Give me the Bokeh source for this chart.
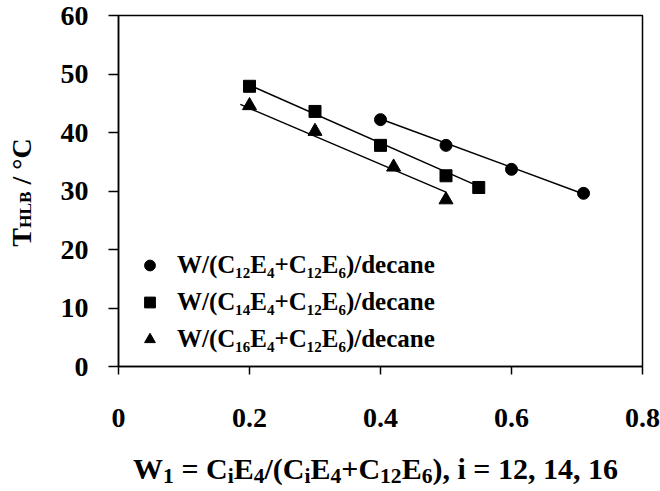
import math
from bokeh.plotting import figure
from bokeh.layouts import row, column
from bokeh.models import Range1d, FixedTicker, Legend, LegendItem
from bokeh.core.properties import value
from bokeh.embed import file_html
from bokeh.resources import INLINE

# ---------------- data ----------------
c12_x = [0.40, 0.50, 0.60, 0.71]
c12_y = [42.2, 37.8, 33.7, 29.6]
c14_x = [0.20, 0.30, 0.40, 0.50, 0.55]
c14_y = [47.9, 43.6, 37.8, 32.6, 30.6]
c16_x = [0.20, 0.30, 0.42, 0.50]
c16_y = [44.6, 40.2, 34.1, 28.5]

# linear fit lines (end points)
c12_fit_x = [0.40, 0.71]
c12_fit_y = [42.3, 29.5]
c14_fit_x = [0.20, 0.55]
c14_fit_y = [48.1, 30.8]
c16_fit_x = [0.186, 0.50]
c16_fit_y = [44.8, 29.8]

series_labels = [
    "W/(C\u2081\u2082E\u2084+C\u2081\u2082E\u2086)/decane",
    "W/(C\u2081\u2084E\u2084+C\u2081\u2082E\u2086)/decane",
    "W/(C\u2081\u2086E\u2084+C\u2081\u2082E\u2086)/decane",
]

x_ticks = [0, 0.2, 0.4, 0.6, 0.8]
x_tick_labels = ["0", "0.2", "0.4", "0.6", "0.8"]
y_ticks = [0, 10, 20, 30, 40, 50, 60]

# axis titles as (text, is_subscript) pieces
x_title = [("W", False), ("1", True), (" = C", False), ("i", True), ("E", False), ("4", True),
           ("/(C", False), ("i", True), ("E", False), ("4", True), ("+C", False), ("12", True),
           ("E", False), ("6", True), ("), i = 12, 14, 16", False)]
y_title = [("T", False), ("HLB", True), (" / \u00b0C", False)]

# ---------------- layout ----------------
W, H = 660, 491
YT_W = 50            # strip holding the y-axis title
XT_H = 40            # strip holding the x-axis title
MW, MH = W - YT_W, H - XT_H
L, R, T, B = 68, 18, 15, 85
X0, X1, Y0, Y1 = 0.0, 0.8, 0.0, 60.0
FONT = "Liberation Serif"

p = figure(width=MW, height=MH, x_range=Range1d(X0, X1), y_range=Range1d(Y0, Y1),
           output_backend="svg", toolbar_location=None,
           min_border_left=L, min_border_right=R, min_border_top=T, min_border_bottom=B)
p.xgrid.visible = False
p.ygrid.visible = False
p.outline_line_color = "black"
p.outline_line_width = 1.5
p.outline_line_alpha = 1.0
p.background_fill_color = "white"
p.border_fill_color = "white"

for ax in (p.xaxis[0], p.yaxis[0]):
    ax.axis_line_width = 1.5
    ax.axis_line_color = "black"
    ax.major_tick_line_width = 1.5
    ax.major_tick_line_color = "black"
    ax.minor_tick_line_color = None
    ax.major_tick_in = 0
    ax.major_label_text_font = FONT
    ax.major_label_text_font_style = "bold"
    ax.major_label_text_color = "black"
    ax.major_label_text_font_size = "28px"

p.xaxis.ticker = FixedTicker(ticks=x_ticks)
p.xaxis.major_label_overrides = {t: s for t, s in zip(x_ticks, x_tick_labels)}
p.xaxis.major_tick_out = 8
p.xaxis.major_label_standoff = 34

p.yaxis.ticker = FixedTicker(ticks=y_ticks)
p.yaxis.major_tick_out = 10
p.yaxis.major_label_standoff = 20

# ---------------- marks ----------------
for fx, fy in ((c12_fit_x, c12_fit_y), (c14_fit_x, c14_fit_y), (c16_fit_x, c16_fit_y)):
    p.line(fx, fy, line_color="black", line_width=1.5)

r1 = p.scatter(c12_x, c12_y, marker="circle", size=12, color="black")
r2 = p.scatter(c14_x, c14_y, marker="square", size=12, color="black")
r3 = p.scatter(c16_x, c16_y, marker="triangle", size=14, color="black")

legend = Legend(items=[LegendItem(label=series_labels[0], renderers=[r1]),
                       LegendItem(label=series_labels[1], renderers=[r2]),
                       LegendItem(label=series_labels[2], renderers=[r3])],
                location=(18, 10), glyph_width=27, glyph_height=34, spacing=3,
                padding=0, margin=0, label_standoff=14,
                label_text_font=FONT, label_text_font_style="bold",
                label_text_font_size="25px", label_text_color="black",
                border_line_color=None, background_fill_alpha=0)
p.add_layout(legend)

# ---------------- title strips (rich text with subscripts) ----------------
TB = {'W': 1000, '1': 500, '2': 500, '4': 500, '6': 500, ' ': 250, '=': 570, 'C': 722,
      'i': 278, 'E': 667, '/': 278, '(': 333, ')': 333, '+': 570, ',': 250, 'T': 667,
      'H': 778, 'L': 667, 'B': 667, '\u00b0': 400}
MID = 0.3375   # distance (em) from baseline to the middle of the text box


def tw(s, size):
    return sum(TB.get(c, 500) for c in s) * size / 1000.0


def strip(w, h, y_lo=0, y_hi=None):
    # y data value = strip height - pixel distance from the strip's top
    f = figure(width=w, height=h, x_range=Range1d(0, w),
               y_range=Range1d(y_lo, h if y_hi is None else y_hi),
               x_axis_type=None, y_axis_type=None, output_backend="svg",
               toolbar_location=None, min_border=0,
               min_border_left=0, min_border_right=0, min_border_top=0, min_border_bottom=0)
    f.outline_line_color = None
    f.background_fill_color = "white"
    f.border_fill_color = "white"
    return f


def compose(fig, pieces, size, ratio, drop, center, base, vertical=False):
    h = fig.height
    total = sum(tw(t, size * ratio if s else size) for t, s in pieces)
    pos = center + total / 2 if vertical else center - total / 2
    step = -1 if vertical else 1
    for text, sub in pieces:
        fs = size * ratio if sub else size
        d = size * drop if sub else 0
        core = text.strip(" ")
        lead = len(text) - len(text.lstrip(" "))
        trail = len(text) - len(text.rstrip(" "))
        pos += step * tw(" " * lead, fs)
        wcore = tw(core, fs)
        mid = pos + step * wcore / 2
        if vertical:
            x, y, ang = base + d - MID * fs, h - mid, math.pi / 2
        else:
            x, y, ang = mid, h - (base + d - MID * fs), 0
        fig.text(x=[x], y=[y], text=[core], angle=ang,
                 text_font=value(FONT), text_font_style=value("bold"),
                 text_font_size=value(f"{fs:.1f}px"), text_color="black",
                 text_align=value("center"), text_baseline=value("middle"))
        pos += step * (wcore + tw(" " * trail, fs))


# the row aligns this strip's frame with the main frame (top T, bottom B)
yt = strip(YT_W, MH, y_lo=B, y_hi=MH - T)
compose(yt, y_title, 28, 0.62, 0.02, 192, 30, vertical=True)

xt = strip(W, XT_H)
compose(xt, x_title, 30, 0.72, 0.16, 375, 478 - MH)

layout = column(row(yt, p), xt)
open("out.html", "w").write(file_html(layout, INLINE))
